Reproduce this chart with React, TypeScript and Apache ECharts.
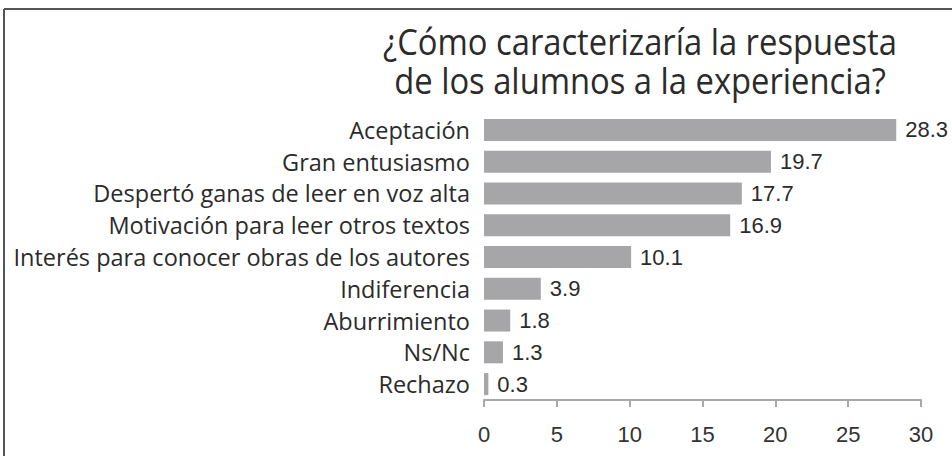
import React, { useEffect, useRef } from "react";
import * as echarts from "echarts";

const titleLines = ["¿Cómo caracterizaría la respuesta", "de los alumnos a la experiencia?"];
const categories = [
  "Aceptación",
  "Gran entusiasmo",
  "Despertó ganas de leer en voz alta",
  "Motivación para leer otros textos",
  "Interés para conocer obras de los autores",
  "Indiferencia",
  "Aburrimiento",
  "Ns/Nc",
  "Rechazo",
];
const values = [28.3, 19.7, 17.7, 16.9, 10.1, 3.9, 1.8, 1.3, 0.3];
const axisMin = 0;
const axisMax = 30;
const axisStep = 5;

export default function App() {
  const ref = useRef<HTMLDivElement>(null);
  useEffect(() => {
    if (!ref.current) return;
    const chart = echarts.init(ref.current, null, { renderer: "svg" });
    const titleFont = {
      fontFamily: "'Open Sans', sans-serif",
      fontSize: 37,
      fill: "#2b2b2b",
      textAlign: "center",
      verticalAlign: "middle",
    };
    chart.setOption({
      animation: false,
      backgroundColor: "#ffffff",
      graphic: [
        { type: "line", shape: { x1: 4, y1: 9, x2: 952, y2: 9 }, style: { stroke: "#555", lineWidth: 2 } },
        { type: "line", shape: { x1: 4, y1: 9, x2: 4, y2: 456 }, style: { stroke: "#555", lineWidth: 2 } },
        { type: "text", x: 640, y: 41, scaleX: 0.885, style: { ...titleFont, text: titleLines[0] } },
        { type: "text", x: 640, y: 80, scaleX: 0.885, style: { ...titleFont, text: titleLines[1] } },
      ],
      grid: { left: 484, right: 31, top: 114, bottom: 56, containLabel: false },
      xAxis: {
        type: "value",
        min: axisMin,
        max: axisMax,
        interval: axisStep,
        splitLine: { show: false },
        axisLine: { show: true, lineStyle: { color: "#a8a8a8", width: 2 } },
        axisTick: { show: true, length: 7, lineStyle: { color: "#a8a8a8", width: 2 } },
        axisLabel: {
          margin: 23,
          fontFamily: "'Liberation Sans', sans-serif",
          fontSize: 22,
          color: "#333",
        },
      },
      yAxis: {
        type: "category",
        data: categories,
        inverse: true,
        axisLine: { show: false },
        axisTick: { show: false },
        axisLabel: {
          margin: 14,
          fontFamily: "'Open Sans', sans-serif",
          fontSize: 23.5,
          color: "#2b2b2b",
        },
      },
      series: [
        {
          type: "bar",
          data: values,
          barWidth: 22,
          itemStyle: { color: "#a6a6a8" },
          label: {
            show: true,
            position: "right",
            distance: 9,
            fontFamily: "'Liberation Sans', sans-serif",
            fontSize: 22,
            color: "#2b2b2b",
            formatter: (p: any) => p.value.toFixed(1),
          },
        },
      ],
    });
    return () => chart.dispose();
  }, []);
  return <div ref={ref} style={{ position: "absolute", left: 0, top: 0, width: 952, height: 456 }} />;
}
